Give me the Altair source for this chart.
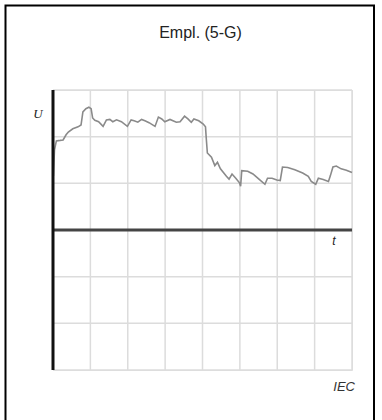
import altair as alt
import pandas as pd

# time (grid units) and amplitude (grid units)
t_vals = [0.01, 0.04, 0.09, 0.19, 0.27, 0.35, 0.41, 0.53, 0.67, 0.75,
          0.80, 0.88, 0.96, 1.02, 1.06, 1.12, 1.22, 1.34, 1.43, 1.52,
          1.60, 1.70, 1.83, 1.99, 2.09, 2.17, 2.27, 2.37, 2.46, 2.57,
          2.73, 2.82, 2.91, 2.99, 3.13, 3.30, 3.40, 3.52, 3.61, 3.70,
          3.77, 3.90, 4.02, 4.08, 4.10, 4.13, 4.24, 4.33, 4.40, 4.48,
          4.64, 4.71, 4.79, 4.89, 4.99, 5.02, 5.05, 5.21, 5.35, 5.51,
          5.67, 5.74, 5.86, 5.99, 6.08, 6.14, 6.28, 6.47, 6.68, 6.83,
          6.91, 7.03, 7.10, 7.23, 7.37, 7.42, 7.49, 7.58, 7.71, 7.85, 8.00]
u_vals = [1.16, 1.72, 1.91, 1.92, 1.93, 2.04, 2.10, 2.17, 2.21, 2.25,
          2.53, 2.60, 2.63, 2.60, 2.40, 2.35, 2.32, 2.22, 2.36, 2.37,
          2.32, 2.36, 2.32, 2.22, 2.36, 2.34, 2.31, 2.37, 2.34, 2.30,
          2.22, 2.42, 2.38, 2.32, 2.37, 2.31, 2.32, 2.44, 2.38, 2.31,
          2.38, 2.34, 2.27, 2.21, 1.97, 1.65, 1.56, 1.38, 1.45, 1.31,
          1.15, 1.09, 1.20, 1.11, 1.01, 0.94, 1.27, 1.26, 1.20, 1.09,
          0.98, 1.11, 1.11, 1.07, 1.06, 1.35, 1.34, 1.29, 1.22, 1.15,
          1.04, 0.98, 1.11, 1.08, 1.04, 1.16, 1.35, 1.37, 1.31, 1.28, 1.23]

x_grid = [0, 1, 2, 3, 4, 5, 6, 7, 8]
y_grid = [-3, -2, -1, 0, 1, 2, 3]

df = pd.DataFrame({"t": t_vals, "u": u_vals})
gx = pd.DataFrame({"g": x_grid})
gy = pd.DataFrame({"g": y_grid})
one = pd.DataFrame({"k": [0]})

xs = alt.Scale(domain=[0, 8], nice=False, zero=False)
ys = alt.Scale(domain=[-3, 3], nice=False, zero=False)

grid_x = alt.Chart(gx).mark_rule(color="#dcdcdc", strokeWidth=1.5).encode(
    x=alt.X("g:Q", scale=xs, axis=None), y=alt.value(0), y2=alt.value(280))
grid_y = alt.Chart(gy).mark_rule(color="#dcdcdc", strokeWidth=1.5).encode(
    y=alt.Y("g:Q", scale=ys, axis=None), x=alt.value(0), x2=alt.value(299))

line = alt.Chart(df).mark_line(color="#8a8a8a", strokeWidth=1.6).encode(
    x=alt.X("t:Q", scale=xs, axis=None),
    y=alt.Y("u:Q", scale=ys, axis=None),
)

zero_line = alt.Chart(one).mark_rule(color="#444444", strokeWidth=3).encode(
    y=alt.datum(0, scale=ys), x=alt.value(0), x2=alt.value(299)
)
v_axis = alt.Chart(one).mark_rule(color="#111111", strokeWidth=3).encode(
    x=alt.datum(0, scale=xs), y=alt.value(0), y2=alt.value(280)
)

title = alt.Chart(one).mark_text(text="Empl. (5-G)", font="Liberation Sans",
                                 fontSize=16, color="#222222", baseline="alphabetic").encode(
    x=alt.value(147.5), y=alt.value(-52))
u_label = alt.Chart(one).mark_text(text="U", font="Liberation Serif", fontStyle="italic",
                                   fontSize=13, color="#222222", baseline="alphabetic").encode(
    x=alt.value(-15), y=alt.value(28))
t_label = alt.Chart(one).mark_text(text="t", font="Liberation Sans", fontStyle="italic",
                                   fontSize=12, color="#222222", baseline="alphabetic").encode(
    x=alt.value(281), y=alt.value(155))
iec_label = alt.Chart(one).mark_text(text="IEC", font="Liberation Sans", fontStyle="italic",
                                     fontSize=13, color="#333333", align="right",
                                     baseline="alphabetic").encode(
    x=alt.value(302), y=alt.value(301))

frame = alt.Chart(one).mark_rect(fill=None, stroke="#000000", strokeWidth=2).encode(
    x=alt.value(-47.5), x2=alt.value(321), y=alt.value(-84.5), y2=alt.value(345)
)

chart = alt.layer(frame, grid_x, grid_y, line, zero_line, v_axis,
                  title, u_label, t_label, iec_label).properties(
    width=299, height=280,
    autosize=alt.AutoSizeParams(type="none"),
    padding={"left": 53, "top": 90, "right": 30, "bottom": 50},
).configure_view(stroke=None).configure(background="white")

chart.save("out.html", embed_options={"renderer": "svg", "actions": False})
